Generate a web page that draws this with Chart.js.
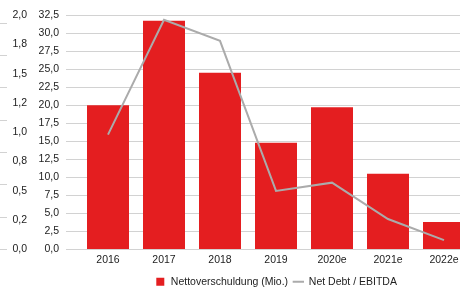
<!DOCTYPE html>
<html>
<head>
<meta charset="utf-8">
<script src="https://cdn.jsdelivr.net/npm/chart.js@4.4.1/dist/chart.umd.min.js"></script>
<style>
  html, body { margin: 0; padding: 0; background: #fff; overflow: hidden; }
  #wrap { position: relative; width: 474px; height: 297px; }
</style>
</head>
<body>
<div id="wrap"><canvas id="chart"></canvas></div>
<script>
  const years = ['2016', '2017', '2018', '2019', '2020e', '2021e', '2022e'];
  const netDebt = [20.0, 31.7, 24.5, 14.8, 19.7, 10.5, 3.8];
  const debtRatio = [0.98, 1.96, 1.78, 0.50, 0.57, 0.26, 0.08];
  const ratioTicks = ['0,0', '0,2', '0,5', '0,8', '1,0', '1,2', '1,5', '1,8', '2,0'];

  const RED = '#e41e20';
  const GREY = '#ababab';
  const GRID = '#d2d2d2';
  const TEXT = '#222';

  Chart.defaults.font.family = "'Liberation Sans', Arial, sans-serif";
  Chart.defaults.font.size = 10.5;
  Chart.defaults.color = TEXT;

  // pin axis boxes so labels land where the original has them
  function fixWidth(w) {
    return (scale) => { scale.width = w; };
  }

  new Chart(document.getElementById('chart'), {
    data: {
      labels: years,
      datasets: [
        {
          type: 'bar',
          label: 'Nettoverschuldung (Mio.)',
          data: netDebt,
          backgroundColor: RED,
          borderWidth: 0,
          pointStyle: 'rect',
          yAxisID: 'y',
          order: 1,
          categoryPercentage: 1,
          barPercentage: 0.75,
        },
        {
          type: 'line',
          label: 'Net Debt / EBITDA',
          data: debtRatio,
          borderColor: GREY,
          backgroundColor: GREY,
          borderWidth: 2,
          pointRadius: 0,
          pointStyle: 'line',
          tension: 0,
          yAxisID: 'y1',
          order: 0,
        },
      ],
    },
    options: {
      responsive: true,
      maintainAspectRatio: false,
      animation: false,
      layout: { padding: { top: 15, right: 2, left: 0, bottom: 0 } },
      plugins: {
        tooltip: { enabled: false },
        legend: {
          position: 'bottom',
          fullSize: false,
          labels: {
            usePointStyle: true,
            boxHeight: 8,
            padding: 5,
            color: TEXT,
            sort: (a, b) => a.datasetIndex - b.datasetIndex,
          },
        },
      },
      scales: {
        x: {
          grid: { display: false, drawTicks: false },
          border: { display: false },
          ticks: { padding: 4, color: TEXT, maxRotation: 0 },
          afterFit: (scale) => { scale.height = 22; },
        },
        y: {
          position: 'left',
          weight: 0,
          min: 0,
          max: 32.5,
          ticks: {
            stepSize: 2.5,
            padding: 7,
            color: TEXT,
            callback: (v) => v.toFixed(1).replace('.', ','),
          },
          grid: { color: GRID, lineWidth: 1, tickLength: 14, tickColor: GRID },
          border: { display: false },
          afterFit: fixWidth(53),
        },
        y1: {
          position: 'left',
          weight: 1,
          min: 0,
          max: 2,
          ticks: {
            stepSize: 0.25,
            padding: 0,
            color: TEXT,
            callback: (v, i) => ratioTicks[i],
          },
          grid: { drawOnChartArea: false, drawTicks: false },
          border: { display: false },
          afterFit: fixWidth(20),
        },
        y2: {
          position: 'left',
          weight: 2,
          min: 0,
          max: 7.25,
          ticks: { display: false, stepSize: 1, includeBounds: false },
          grid: { drawOnChartArea: false, tickLength: 7, tickColor: GRID, color: GRID },
          border: { display: false },
          afterFit: fixWidth(7),
        },
      },
    },
  });
</script>
</body>
</html>
